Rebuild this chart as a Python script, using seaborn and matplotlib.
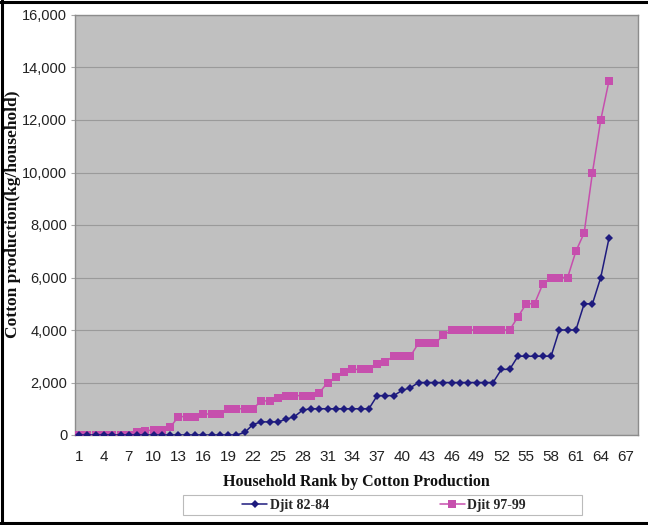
import numpy as np
import pandas as pd
import matplotlib
matplotlib.use("Agg")
import matplotlib.pyplot as plt
from matplotlib.lines import Line2D
from matplotlib.patches import Rectangle
from matplotlib.ticker import FuncFormatter
import seaborn as sns

# Household rank (1 = lowest producer)
rank = list(range(1, 66))

# Cotton production per household, kg, sorted by rank
djit_82_84 = ([0] * 20
              + [100, 400, 500, 500, 500, 600, 700, 950]
              + [1000] * 8
              + [1500] * 3 + [1700, 1800]
              + [2000] * 10
              + [2500] * 2
              + [3000] * 5
              + [4000] * 3
              + [5000] * 2
              + [6000, 7500])

djit_97_99 = ([0] * 7
              + [100, 150, 200, 200, 300]
              + [700] * 3 + [800] * 3
              + [1000] * 4 + [1300, 1300, 1400]
              + [1500] * 4 + [1600, 2000, 2200, 2400]
              + [2500] * 3 + [2700, 2800]
              + [3000] * 3 + [3500] * 3 + [3800]
              + [4000] * 8 + [4500, 5000, 5000, 5750]
              + [6000] * 3 + [7000, 7700, 10000, 12000, 13500])

series_names = ["Djit 82-84", "Djit 97-99"]
x_tick_labels = list(range(1, 68, 3))
y_ticks = list(range(0, 16001, 2000))

df = pd.concat([
    pd.DataFrame({"rank": rank, "kg": djit_82_84, "series": series_names[0]}),
    pd.DataFrame({"rank": rank, "kg": djit_97_99, "series": series_names[1]}),
])

sns.set_theme(style="white")
plt.rcParams["font.family"] = ["Liberation Sans", "DejaVu Sans"]

navy = "#1E1B7E"
magenta = "#C64FAD"
W, H = 648, 525

fig = plt.figure(figsize=(W / 100, H / 100), dpi=100)
ax = fig.add_axes([75 / W, 90 / H, 563 / W, 420 / H])
ax.set_facecolor("#C0C0C0")

sns.lineplot(data=df, x="rank", y="kg", hue="series", style="series",
             palette={series_names[0]: navy, series_names[1]: magenta},
             markers={series_names[0]: "D", series_names[1]: "s"},
             dashes=False, linewidth=1.1, markersize=5.5,
             markeredgewidth=0, ax=ax, legend=False)
# the older series sits on top where the two overlap at zero
for line in ax.lines:
    if matplotlib.colors.to_hex(line.get_color()) == navy.lower():
        line.set_zorder(4)
        line.set_markersize(4.5)
    else:
        line.set_zorder(3)

ax.set_xlim(0.5, 68.5)
ax.set_ylim(0, 16000)
ax.set_xticks(x_tick_labels)
ax.set_xticklabels([str(v) for v in x_tick_labels])
ax.set_xticks(np.arange(0.5, 69, 1), minor=True)
ax.set_yticks(y_ticks)
ax.yaxis.set_major_formatter(FuncFormatter(lambda v, p: f"{int(v):,}"))

ax.grid(axis="y", color="#9A9A9A", linewidth=0.8)
ax.set_axisbelow(True)
for s in ax.spines.values():
    s.set_color("#8C8C8C")
    s.set_linewidth(1.0)

ax.tick_params(axis="x", which="major", length=0, pad=11, labelsize=11,
               labelcolor="#222222")
ax.tick_params(axis="x", which="minor", length=3, color="#A8A8A8", width=0.8)
ax.tick_params(axis="y", which="major", length=3, color="#A8A8A8", width=0.8,
               pad=2.5, labelsize=10.5, labelcolor="#222222", left=True)

serif = ["Liberation Serif", "DejaVu Serif"]
ax.set_xlabel("Household Rank by Cotton Production", family=serif,
              fontweight="bold", fontsize=11.5, color="#111111")
ax.xaxis.set_label_coords(0.5, -(482 - 435) / 420, transform=ax.transAxes)
ax.xaxis.label.set_va("center")
ax.set_ylabel("Cotton production(kg/household)", family=serif,
              fontweight="bold", fontsize=12.5, color="#111111")
ax.yaxis.set_label_coords((13.5 - 75) / 563, (435 - 214) / 420)
ax.yaxis.label.set_va("center")

handles = [
    Line2D([], [], color=navy, marker="D", markersize=4.5, linewidth=1.1,
           markeredgewidth=0),
    Line2D([], [], color=magenta, marker="s", markersize=5.5, linewidth=1.1,
           markeredgewidth=0),
]
fig.add_artist(Rectangle((183 / W, 1 - 515 / H), (582 - 183) / W, 20 / H,
                         transform=fig.transFigure, facecolor="white",
                         edgecolor="#BBBBBB", linewidth=0.8))
leg = fig.legend(handles, series_names, loc="center",
                 bbox_to_anchor=(384 / W, 1 - 505 / H), ncol=2,
                 frameon=False, columnspacing=8.0,
                 handlelength=1.8, handletextpad=0.15, borderpad=0.2,
                 prop={"family": serif, "weight": "bold", "size": 10})

# outer frame lines
for xs, ys in [((0, 1), (1 - 2 / H, 1 - 2 / H)),
               ((2 / W, 2 / W), (0, 1)),
               ((0, 1), (2 / H, 2 / H))]:
    fig.add_artist(Line2D(xs, ys, transform=fig.transFigure,
                          color="black", linewidth=2.2))

fig.savefig("out.png", dpi=100, facecolor="white")
